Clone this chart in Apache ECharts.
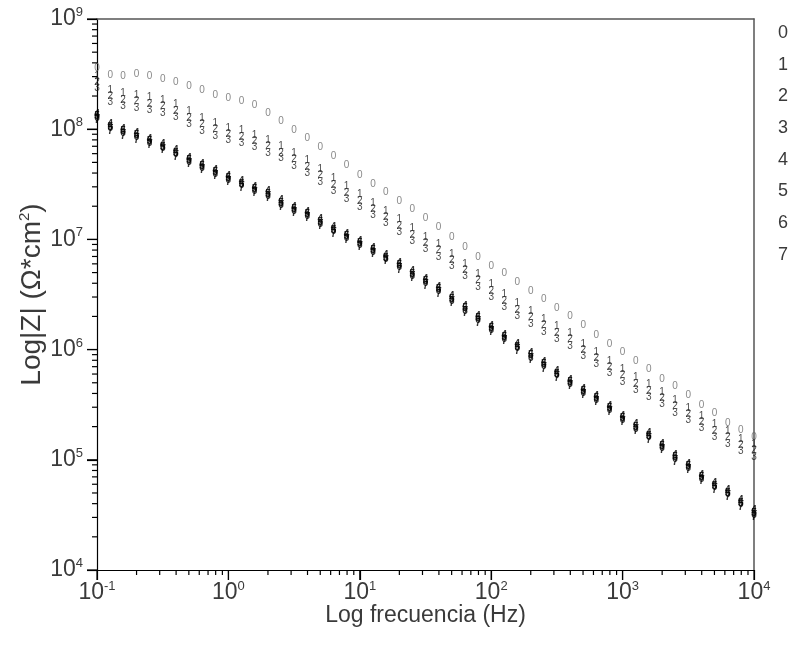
<!DOCTYPE html>
<html>
<head>
<meta charset="utf-8">
<script src="https://cdn.jsdelivr.net/npm/echarts@6/dist/echarts.min.js"></script>
<style>html,body{margin:0;padding:0;background:#fff}#c{width:791px;height:662px}</style>
</head>
<body>
<div id="c"></div>
<script>
// Frequencies (Hz)
var freq = [0.1,0.126,0.158,0.2,0.251,0.316,0.398,0.501,0.631,0.794,
1,1.26,1.58,2,2.51,3.16,3.98,5.01,6.31,7.94,
10,12.6,15.8,20,25.1,31.6,39.8,50.1,63.1,79.4,
100,126,158,200,251,316,398,501,631,794,
1000,1260,1580,2000,2510,3160,3980,5010,6310,7940,10000];

var seriesNames = ['0','1','2','3','4','5','6','7'];

var z0 = [3.6e8,3.10e8,3.04e8,3.17e8,3.04e8,2.85e8,2.68e8,2.47e8,2.27e8,2.04e8,
1.92e8,1.80e8,1.66e8,1.40e8,1.19e8,9.8e7,8.3e7,6.9e7,5.7e7,4.7e7,
3.84e7,3.18e7,2.69e7,2.23e7,1.89e7,1.56e7,1.30e7,1.05e7,8.5e6,6.9e6,
5.7e6,4.95e6,4.10e6,3.40e6,2.88e6,2.39e6,2.02e6,1.67e6,1.36e6,1.12e6,
9.5e5,7.9e5,6.7e5,5.4e5,4.68e5,3.87e5,3.14e5,2.66e5,2.16e5,1.86e5,1.61e5];

var z1 = [3.05e8,2.28e8,2.10e8,2.03e8,1.94e8,1.82e8,1.68e8,1.45e8,1.25e8,1.13e8,
1.03e8,9.7e7,8.9e7,8.0e7,7.0e7,6.0e7,5.2e7,4.32e7,3.57e7,3.01e7,
2.55e7,2.14e7,1.80e7,1.52e7,1.25e7,1.05e7,9.0e6,7.4e6,6.0e6,4.82e6,
3.88e6,3.15e6,2.61e6,2.22e6,1.88e6,1.62e6,1.40e6,1.13e6,9.5e5,7.9e5,
6.6e5,5.6e5,4.80e5,4.14e5,3.45e5,2.95e5,2.51e5,2.09e5,1.81e5,1.55e5,1.38e5];

var z2 = [2.68e8,2.00e8,1.84e8,1.78e8,1.70e8,1.60e8,1.47e8,1.27e8,1.10e8,9.9e7,
9.0e7,8.5e7,7.8e7,7.0e7,6.1e7,5.3e7,4.55e7,3.79e7,3.13e7,2.64e7,
2.24e7,1.88e7,1.58e7,1.33e7,1.10e7,9.2e6,7.9e6,6.5e6,5.3e6,4.23e6,
3.40e6,2.76e6,2.29e6,1.95e6,1.65e6,1.42e6,1.23e6,9.9e5,8.3e5,6.97e5,
5.81e5,4.89e5,4.21e5,3.63e5,3.03e5,2.59e5,2.20e5,1.83e5,1.59e5,1.36e5,1.21e5];

var z3 = [2.35e8,1.75e8,1.61e8,1.56e8,1.49e8,1.40e8,1.29e8,1.11e8,9.6e7,8.7e7,
7.9e7,7.5e7,6.8e7,6.1e7,5.4e7,4.65e7,3.99e7,3.32e7,2.75e7,2.32e7,
1.96e7,1.65e7,1.39e7,1.17e7,9.6e6,8.1e6,6.9e6,5.7e6,4.65e6,3.71e6,
2.98e6,2.42e6,2.01e6,1.71e6,1.45e6,1.25e6,1.08e6,8.7e5,7.3e5,6.1e5,
5.1e5,4.29e5,3.69e5,3.18e5,2.66e5,2.27e5,1.93e5,1.61e5,1.39e5,1.19e5,1.06e5];

var z4 = [1.38e8,1.10e8,9.95e7,9.2e7,8.1e7,7.3e7,6.4e7,5.5e7,4.8e7,4.26e7,
3.75e7,3.35e7,2.99e7,2.71e7,2.25e7,1.96e7,1.77e7,1.51e7,1.28e7,1.12e7,
9.7e6,8.3e6,7.2e6,6.1e6,5.1e6,4.33e6,3.68e6,3.02e6,2.46e6,2.00e6,
1.64e6,1.35e6,1.11e6,9.2e5,7.7e5,6.3e5,5.3e5,4.41e5,3.79e5,3.08e5,
2.50e5,2.08e5,1.73e5,1.38e5,1.10e5,9.2e4,7.3e4,6.1e4,5.3e4,4.27e4,3.45e4];

var z5 = [1.32e8,1.05e8,9.5e7,8.8e7,7.75e7,6.9e7,6.1e7,5.2e7,4.6e7,4.06e7,
3.57e7,3.19e7,2.85e7,2.58e7,2.14e7,1.87e7,1.68e7,1.44e7,1.22e7,1.07e7,
9.3e6,8.0e6,6.8e6,5.8e6,4.86e6,4.13e6,3.51e6,2.88e6,2.35e6,1.91e6,
1.56e6,1.29e6,1.06e6,8.8e5,7.3e5,6.0e5,5.1e5,4.20e5,3.61e5,2.94e5,
2.39e5,1.98e5,1.65e5,1.32e5,1.05e5,8.8e4,6.9e4,5.8e4,5.0e4,4.07e4,3.28e4];

var z6 = [1.26e8,1.01e8,9.1e7,8.4e7,7.45e7,6.7e7,5.9e7,5.0e7,4.4e7,3.90e7,
3.43e7,3.07e7,2.74e7,2.48e7,2.06e7,1.79e7,1.62e7,1.38e7,1.18e7,1.03e7,
8.9e6,7.6e6,6.6e6,5.6e6,4.67e6,3.97e6,3.37e6,2.76e6,2.25e6,1.83e6,
1.50e6,1.24e6,1.02e6,8.4e5,7.1e5,5.8e5,4.87e5,4.04e5,3.47e5,2.82e5,
2.29e5,1.90e5,1.59e5,1.26e5,1.01e5,8.4e4,6.7e4,5.6e4,4.83e4,3.91e4,3.16e4];

var z7 = [1.21e8,9.6e7,8.7e7,8.0e7,7.1e7,6.4e7,5.6e7,4.8e7,4.2e7,3.72e7,
3.27e7,2.93e7,2.61e7,2.36e7,1.96e7,1.71e7,1.54e7,1.32e7,1.12e7,9.8e6,
8.5e6,7.3e6,6.3e6,5.3e6,4.45e6,3.79e6,3.21e6,2.64e6,2.15e6,1.75e6,
1.43e6,1.18e6,9.7e5,8.0e5,6.7e5,5.5e5,4.64e5,3.85e5,3.31e5,2.69e5,
2.19e5,1.81e5,1.51e5,1.21e5,9.6e4,8.0e4,6.4e4,5.3e4,4.61e4,3.73e4,3.01e4];

var xTickExponents = ['-1','0','1','2','3','4'];
var yTickExponents = ['4','5','6','7','8','9'];
var xMajorTicks = [0.1, 1, 10, 100, 1000, 10000];
var yMajorTicks = [1e4, 1e5, 1e6, 1e7, 1e8, 1e9];
var minorMultipliers = [2,3,4,5,6,7,8,9];

var allZ = [z0,z1,z2,z3,z4,z5,z6,z7];
var markerColors = ['#6a6a6a','#222','#222','#222','#000','#000','#000','#000'];

var chart = echarts.init(document.getElementById('c'), null, {renderer:'canvas'});

function minorOf(majors) {
  var out = [];
  for (var i = 0; i < majors.length - 1; i++) {
    minorMultipliers.forEach(function(m){ out.push(majors[i] * m); });
  }
  return out;
}

var regFont = 'Liberation Sans, Arial, sans-serif';
var txtColor = '#3a3a3a';
var rich = {
  b: {fontSize: 23, color: txtColor, fontFamily: regFont, lineHeight: 26},
  s: {fontSize: 13, color: txtColor, fontFamily: regFont, verticalAlign: 'top', lineHeight: 13}
};

var series = seriesNames.map(function(name, si){
  return {
    name: name,
    type: 'scatter',
    symbol: 'circle',
    symbolSize: 2,
    itemStyle: {color: 'rgba(0,0,0,0)'},
    label: {
      show: true,
      position: 'inside',
      formatter: name,
      fontSize: 10,
      fontWeight: si >= 4 ? 'bold' : 'normal',
      fontFamily: regFont,
      color: markerColors[si]
    },
    emphasis: {disabled: true},
    data: freq.map(function(f, i){ return [f, allZ[si][i]]; })
  };
});

// tick marks drawn through the axes' scales (api.coord), pointing outward
function tickSeries(values, horizontalAxis, len) {
  return {
    type: 'custom',
    silent: true,
    clip: false,
    z: 5,
    data: values.map(function(v){ return horizontalAxis ? [v, 1e4] : [0.1, v]; }),
    renderItem: function(params, api) {
      var p = api.coord([api.value(0), api.value(1)]);
      var shape = horizontalAxis
        ? {x1: p[0], y1: p[1], x2: p[0], y2: p[1] + len}
        : {x1: p[0] - len, y1: p[1], x2: p[0], y2: p[1]};
      return {type: 'line', shape: shape, style: {stroke: '#000', lineWidth: 1.2}};
    }
  };
}
series.push(tickSeries(xMajorTicks, true, 10));
series.push(tickSeries(minorOf(xMajorTicks), true, 5));
series.push(tickSeries(yMajorTicks, false, 10));
series.push(tickSeries(minorOf(yMajorTicks), false, 5));

var blackLine = {show: true, onZero: false, lineStyle: {color: '#000', width: 1.2}};
var frameLine = {show: true, onZero: false, lineStyle: {color: '#555', width: 1.5}};

var option = {
  animation: false,
  backgroundColor: '#fff',
  grid: {left: 97, right: 37, top: 19, bottom: 92, show: false, containLabel: false},
  legend: {
    orient: 'vertical',
    left: 768,
    top: 18,
    icon: 'none',
    itemWidth: 0,
    itemHeight: 20,
    itemGap: 11.7,
    textStyle: {fontSize: 18, color: txtColor, fontFamily: regFont, lineHeight: 20},
    data: seriesNames
  },
  xAxis: [{
    type: 'log', logBase: 10, min: 0.1, max: 10000, position: 'bottom',
    name: 'Log frecuencia (Hz)', nameLocation: 'middle', nameGap: 34, nameMoveOverlap: false,
    nameTextStyle: {fontSize: 23, color: txtColor, fontFamily: regFont},
    axisLine: blackLine,
    axisTick: {show: true, inside: false, length: 10, lineStyle: {color: '#000', width: 1.2}},
    axisLabel: {show: true, margin: 10, formatter: function(v, i){ return '{b|10}{s|' + xTickExponents[i] + '}'; }, rich: rich},
    splitLine: {show: false}
  }, {
    type: 'log', logBase: 10, min: 0.1, max: 10000, position: 'top',
    axisLine: frameLine, axisTick: {show: false}, axisLabel: {show: false},
    splitLine: {show: false}
  }],
  yAxis: [{
    type: 'log', logBase: 10, min: 1e4, max: 1e9, position: 'left',
    name: '{a|Log|Z| (Ω*cm}{s|2}{a|)}', nameLocation: 'middle', nameGap: 50, nameRotate: 90, nameMoveOverlap: false,
    nameTextStyle: {rich: {
      a: {fontSize: 28, color: txtColor, fontFamily: regFont, lineHeight: 30},
      s: {fontSize: 15, color: txtColor, fontFamily: regFont, verticalAlign: 'top', lineHeight: 15}
    }},
    axisLine: blackLine,
    axisTick: {show: true, inside: false, length: 10, lineStyle: {color: '#000', width: 1.2}},
    axisLabel: {show: true, margin: 14, formatter: function(v, i){ return '{b|10}{s|' + yTickExponents[i] + '}'; }, rich: rich},
    splitLine: {show: false}
  }, {
    type: 'log', logBase: 10, min: 1e4, max: 1e9, position: 'right',
    axisLine: frameLine, axisTick: {show: false}, axisLabel: {show: false},
    splitLine: {show: false}
  }],
  series: series
};
chart.setOption(option);
</script>
</body>
</html>
